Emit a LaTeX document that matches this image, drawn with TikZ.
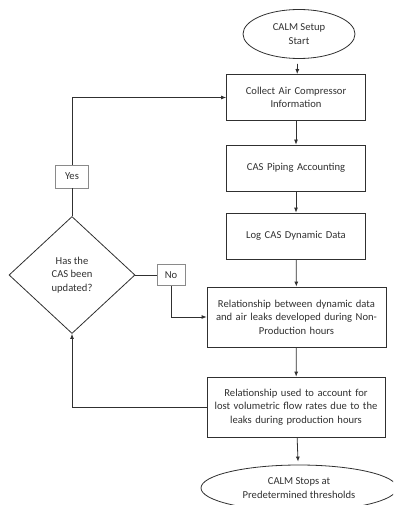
\documentclass[tikz,border=0pt]{standalone}
\usepackage{fontspec}
\setmainfont{Carlito}
\usepackage{xcolor}
\definecolor{ink}{HTML}{303030}
\definecolor{tagline}{HTML}{8A8A8A}
\usetikzlibrary{arrows.meta,shapes.geometric}

\begin{document}
\begin{tikzpicture}[
  x=1pt,
  y=-1pt,
  line width=0.8pt,
  draw=ink,
  text=ink,
  font=\fontsize{10.6}{13.6}\selectfont,
  flow/.style={
    -{Latex[length=5pt,width=4pt]}
  },
  stepbox/.style={
    draw,
    rectangle,
    align=center,
    inner sep=0pt,
    minimum width=139pt,
    text width=134pt,
    minimum height=46pt
  },
  widebox/.style={
    stepbox,
    minimum width=179pt,
    text width=176pt,
    minimum height=60pt
  },
  terminal/.style={
    draw,
    ellipse,
    align=center,
    inner sep=0pt
  },
  decision/.style={
    draw,
    diamond,
    align=center,
    inner sep=0pt,
    aspect=1.077,
    minimum width=126pt,
    minimum height=117pt
  },
  answer/.style={
    draw=tagline,
    rectangle,
    inner sep=0pt,
    minimum height=22pt
  }
]
  \useasboundingbox (0,0) rectangle (393,505);
  \clip (0,0) rectangle (393,505);

  \node[terminal, minimum width=112pt, minimum height=49pt] (start) at (299,34)
    {CALM Setup\\Start};
  \node[stepbox] (collect) at (296,97.5)
    {Collect Air Compressor\\Information};
  \node[stepbox] (piping) at (296,168)
    {CAS Piping Accounting};
  \node[stepbox] (log) at (296,236)
    {Log CAS Dynamic Data};
  \node[widebox] (nonprod) at (296.5,317)
    {Relationship between dynamic data\\and air leaks developed during Non-\\Production hours};
  \node[widebox, minimum width=178pt] (prod) at (296,407)
    {Relationship used to account for\\lost volumetric flow rates due to the\\leaks during production hours};
  \node[terminal, minimum width=196pt, minimum height=46pt] (stop) at (299,488)
    {CALM Stops at\\Predetermined thresholds};

  \node[decision] (updated) at (72,275)
    {Has the\\CAS been\\updated?};
  \node[answer, minimum width=33pt, minimum height=23pt] (yes) at (72,176.5) {Yes};
  \node[answer, minimum width=28pt, minimum height=21pt] (no) at (171,275) {No};

  \draw[flow, shorten <=5pt] (start) -- (collect);
  \draw[flow] (collect) -- (piping);
  \draw[flow] (piping) -- (log);
  \draw[flow] (log) -- (nonprod);
  \draw[flow] (nonprod) -- (prod);
  \draw[flow, shorten >=3pt] (prod) -- (stop);

  \draw (updated.north) -- (yes.south);
  \draw[flow] (yes.north) |- (collect.west);
  \draw (updated.east) -- (no.west);
  \draw[flow] (no.south) |- (nonprod.west);
  \draw[flow] (prod.west) -| (updated.south);
\end{tikzpicture}
\end{document}
